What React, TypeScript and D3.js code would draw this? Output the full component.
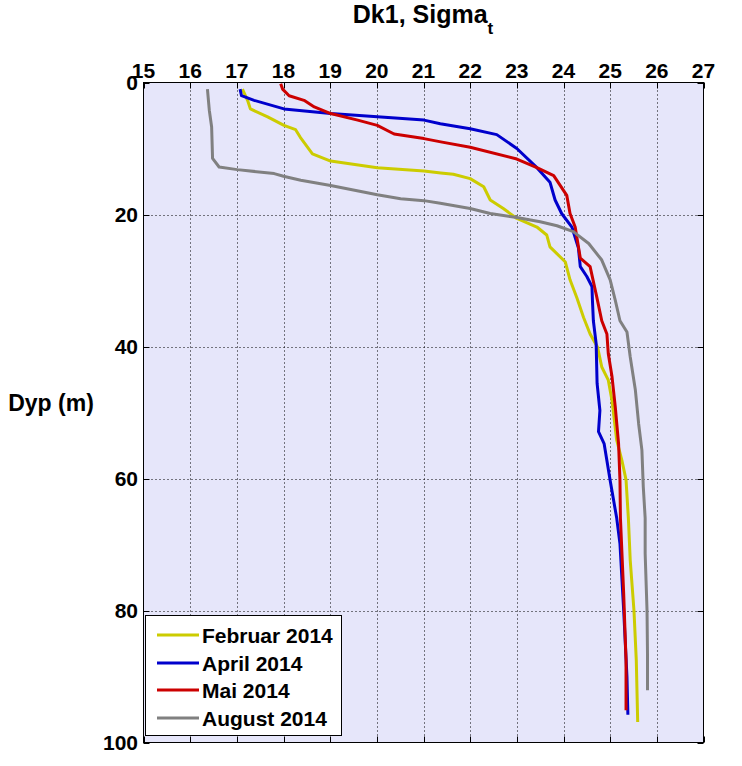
import React from "react";
import * as d3 from "d3";

const xTicks = [15, 16, 17, 18, 19, 20, 21, 22, 23, 24, 25, 26, 27];
const yTicks = [0, 20, 40, 60, 80, 100];

const febDepth = [1.0, 2.7, 4.0, 5.2, 6.5, 7.15, 8.3, 10.8, 11.9, 12.9, 13.4, 13.7, 13.9, 14.56, 15.8, 17.8, 19.1, 20.6, 21.9, 23.1, 24.9, 27.2, 29.9, 32.7, 35.6, 38.1, 40.1, 43.1, 45.1, 48.2, 54.2, 57.2, 60.2, 66.0, 72.4, 80, 87.6, 96.9];
const febSigma = [17.12, 17.23, 17.29, 17.66, 18.01, 18.26, 18.36, 18.62, 19.01, 20.01, 21.01, 21.37, 21.64, 22.0, 22.29, 22.43, 22.71, 23.0, 23.43, 23.64, 23.71, 24.04, 24.14, 24.29, 24.43, 24.57, 24.73, 24.82, 24.96, 25.04, 25.14, 25.25, 25.34, 25.39, 25.43, 25.51, 25.56, 25.59];

const aprDepth = [1.0, 2.0, 2.7, 4.0, 4.7, 5.2, 5.7, 6.25, 7.0, 7.9, 10.0, 12.9, 15.1, 17.8, 19.85, 21.9, 25.1, 27.9, 29.4, 30.9, 33.0, 36.1, 39.6, 45.6, 49.7, 52.9, 54.7, 60.3, 66.0, 69.9, 80, 90.1, 95.8];
const aprSigma = [17.07, 17.1, 17.37, 18.01, 19.01, 20.01, 21.01, 21.36, 22.0, 22.57, 23.0, 23.43, 23.71, 23.82, 23.96, 24.18, 24.32, 24.36, 24.5, 24.61, 24.62, 24.64, 24.7, 24.72, 24.78, 24.75, 24.87, 25.0, 25.14, 25.21, 25.29, 25.36, 25.38];

const maiDepth = [0.2, 1.0, 2.0, 2.7, 3.7, 4.7, 5.7, 6.5, 7.8, 8.5, 9.0, 9.8, 11.6, 12.9, 14.1, 17.1, 19.85, 21.9, 26.6, 27.9, 32.4, 36.1, 38.1, 41.1, 44.6, 49.2, 54.7, 60.3, 66.0, 77.5, 87.6, 95.1];
const maiSigma = [17.94, 17.98, 18.12, 18.44, 18.66, 19.01, 19.59, 20.01, 20.37, 21.01, 21.37, 22.0, 23.0, 23.43, 23.79, 24.07, 24.14, 24.25, 24.36, 24.57, 24.71, 24.82, 24.93, 24.96, 25.04, 25.11, 25.18, 25.21, 25.22, 25.29, 25.34, 25.34];

const augDepth = [1.0, 4.2, 6.75, 11.5, 12.8, 13.2, 13.8, 14.2, 14.8, 15.6, 17.0, 17.6, 17.9, 18.3, 19.1, 19.85, 20.45, 21.1, 21.7, 22.6, 24.4, 26.9, 29.9, 33.0, 36.1, 37.8, 41.6, 46.6, 51.7, 55.7, 61.3, 66.0, 71.4, 80, 86.6, 92.1];
const augSigma = [16.37, 16.41, 16.46, 16.48, 16.62, 17.01, 17.8, 18.0, 18.37, 19.01, 20.01, 20.51, 21.01, 21.36, 22.0, 22.43, 23.0, 23.5, 23.86, 24.21, 24.54, 24.82, 25.0, 25.11, 25.21, 25.36, 25.43, 25.54, 25.61, 25.68, 25.71, 25.75, 25.75, 25.79, 25.8, 25.8];

const seriesNames = ["Februar 2014", "April 2014", "Mai 2014", "August 2014"];
const seriesColors = ["#CCCC00", "#0000CC", "#CC0000", "#808080"];

const series = [
  { name: seriesNames[0], color: seriesColors[0], depth: febDepth, sigma: febSigma },
  { name: seriesNames[1], color: seriesColors[1], depth: aprDepth, sigma: aprSigma },
  { name: seriesNames[2], color: seriesColors[2], depth: maiDepth, sigma: maiSigma },
  { name: seriesNames[3], color: seriesColors[3], depth: augDepth, sigma: augSigma },
];

const FONT = "'Liberation Sans', Arial, Helvetica, sans-serif";

export default function App() {
  const W = 742;
  const H = 766;
  const left = 143.5;
  const right = 703.5;
  const top = 82.5;
  const bottom = 742.5;

  const x = d3.scaleLinear().domain([15, 27]).range([left, right]);
  const y = d3.scaleLinear().domain([0, 100]).range([top, bottom]);

  const line = d3
    .line<[number, number]>()
    .x((d) => x(d[0]))
    .y((d) => y(d[1]));

  const legendX = 145.5;
  const legendY = 615.5;
  const legendW = 196;
  const legendH = 120;
  const rowY = [635, 663, 690, 718];

  return (
    <svg
      width={W}
      height={H}
      style={{ position: "absolute", left: 0, top: 0, background: "#fff" }}
      fontFamily={FONT}
    >
      <rect x={0} y={0} width={W} height={H} fill="#fff" />
      <rect x={left} y={top} width={right - left} height={bottom - top} fill="#E6E6FA" />

      {xTicks.slice(1, -1).map((t) => (
        <line
          key={"gx" + t}
          x1={Math.round(x(t)) + 0.5}
          x2={Math.round(x(t)) + 0.5}
          y1={top}
          y2={bottom}
          stroke="#000"
          strokeWidth={1}
          strokeDasharray="1,3"
        />
      ))}
      {yTicks.slice(1, -1).map((t) => (
        <line
          key={"gy" + t}
          x1={left}
          x2={right}
          y1={Math.round(y(t)) + 0.5}
          y2={Math.round(y(t)) + 0.5}
          stroke="#000"
          strokeWidth={1}
          strokeDasharray="1,3"
        />
      ))}

      {xTicks.map((t) => (
        <g key={"tx" + t}>
          <line x1={Math.round(x(t)) + 0.5} x2={Math.round(x(t)) + 0.5} y1={top} y2={top + 6} stroke="#000" />
          <line x1={Math.round(x(t)) + 0.5} x2={Math.round(x(t)) + 0.5} y1={bottom} y2={bottom - 6} stroke="#000" />
        </g>
      ))}
      {yTicks.map((t) => (
        <g key={"ty" + t}>
          <line x1={left} x2={left + 6} y1={Math.round(y(t)) + 0.5} y2={Math.round(y(t)) + 0.5} stroke="#000" />
          <line x1={right} x2={right - 6} y1={Math.round(y(t)) + 0.5} y2={Math.round(y(t)) + 0.5} stroke="#000" />
        </g>
      ))}

      {series.map((s) => (
        <path
          key={s.name}
          d={line(s.sigma.map((v, i) => [v, s.depth[i]] as [number, number])) || ""}
          fill="none"
          stroke={s.color}
          strokeWidth={3}
          strokeLinejoin="round"
        />
      ))}

      <rect x={left} y={top} width={right - left} height={bottom - top} fill="none" stroke="#000" strokeWidth={1} />

      {xTicks.map((t) => (
        <text key={"lx" + t} x={x(t)} y={78} textAnchor="middle" fontSize={21} fontWeight="bold" fill="#000">
          {t}
        </text>
      ))}
      {yTicks.map((t) => (
        <text key={"ly" + t} x={138} y={y(t) + 7.5} textAnchor="end" fontSize={21} fontWeight="bold" fill="#000">
          {t}
        </text>
      ))}

      <text x={423} y={23} textAnchor="middle" fontSize={25} fontWeight="bold" fill="#000">
        Dk1, Sigma
        <tspan fontSize={17} dy={11}>t</tspan>
      </text>

      <text x={51} y={411} textAnchor="middle" fontSize={23} fontWeight="bold" fill="#000">
        Dyp (m)
      </text>

      <rect x={legendX} y={legendY} width={legendW} height={legendH} fill="#fff" stroke="#000" strokeWidth={1} />
      {series.map((s, i) => (
        <g key={"lg" + s.name}>
          <line x1={157} x2={199} y1={rowY[i]} y2={rowY[i]} stroke={s.color} strokeWidth={3} />
          <text x={202} y={rowY[i] + 7.5} fontSize={21} fontWeight="bold" fill="#000">
            {s.name}
          </text>
        </g>
      ))}
    </svg>
  );
}
